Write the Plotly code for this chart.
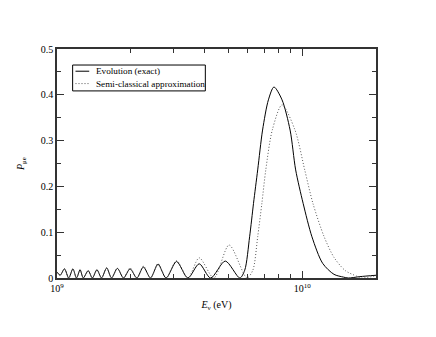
import numpy as np
import plotly.graph_objects as go

# Evolution (exact)
energy_exact = [1.000e9, 1.030e9, 1.073e9, 1.116e9, 1.161e9, 1.201e9, 1.242e9, 1.280e9,
                1.340e9, 1.394e9, 1.455e9, 1.519e9, 1.595e9, 1.669e9, 1.763e9, 1.868e9,
                1.986e9, 2.117e9, 2.251e9, 2.407e9, 2.582e9, 2.786e9, 3.073e9, 3.418e9,
                3.802e9, 4.232e9, 4.856e9, 5.568e9, 5.830e9, 6.103e9, 6.331e9, 6.584e9,
                6.893e9, 7.281e9, 7.671e9, 8.275e9, 8.927e9, 9.406e9, 1.009e10, 1.096e10,
                1.212e10, 1.348e10, 1.472e10, 1.542e10, 1.720e10, 2.000e10]
prob_exact = [0.013, 0.006, 0.020, 0.000, 0.020, 0.000, 0.018, 0.000,
              0.016, 0.000, 0.018, 0.000, 0.022, 0.000, 0.021, 0.000,
              0.020, 0.000, 0.024, 0.000, 0.030, 0.000, 0.036, 0.000,
              0.031, 0.000, 0.037, 0.000, 0.017, 0.090, 0.163, 0.236,
              0.323, 0.389, 0.417, 0.389, 0.323, 0.236, 0.163, 0.090,
              0.032, 0.008, 0.002, 0.000, 0.003, 0.006]

# Semi-classical approximation
energy_semi = [1.000e9, 1.030e9, 1.073e9, 1.116e9, 1.161e9, 1.201e9, 1.242e9, 1.280e9,
               1.340e9, 1.394e9, 1.455e9, 1.519e9, 1.595e9, 1.669e9, 1.763e9, 1.868e9,
               1.986e9, 2.117e9, 2.251e9, 2.407e9, 2.582e9, 2.786e9, 3.073e9, 3.418e9,
               3.802e9, 4.362e9, 5.035e9, 5.950e9, 6.290e9, 6.584e9, 6.848e9, 7.104e9,
               7.551e9, 8.275e9, 9.346e9, 1.024e10, 1.106e10, 1.229e10, 1.348e10,
               1.500e10, 1.669e10, 1.748e10, 2.000e10]
prob_semi = [0.013, 0.006, 0.020, 0.000, 0.020, 0.000, 0.018, 0.000,
             0.016, 0.000, 0.018, 0.000, 0.022, 0.000, 0.021, 0.000,
             0.022, 0.000, 0.026, 0.000, 0.032, 0.000, 0.038, 0.000,
             0.044, 0.000, 0.072, 0.000, 0.017, 0.090, 0.163, 0.236,
             0.323, 0.378, 0.323, 0.236, 0.163, 0.090, 0.045,
             0.016, 0.004, 0.000, 0.005]

series_names = ["Evolution (exact)", "Semi-classical approximation"]

x_major = [1e9, 1e10]
x_major_text = ["10<sup>9</sup>", "10<sup>10</sup>"]
x_minor = [2e9, 3e9, 4e9, 5e9, 6e9, 7e9, 8e9, 9e9]

serif = '"Liberation Serif", "Times New Roman", Times, serif'
exact_line = dict(color='black', width=1)
semi_line = dict(color='#555555', width=1, dash='1px,2px')

fig = go.Figure()
fig.add_scatter(x=energy_exact, y=prob_exact, mode='lines', name=series_names[0],
                line=dict(**exact_line, shape='spline', smoothing=0.8))
fig.add_scatter(x=energy_semi, y=prob_semi, mode='lines', name=series_names[1],
                line=dict(**semi_line, shape='spline', smoothing=0.8))

# legend drawn by hand (compact boxed legend like the original)
fig.add_shape(type='rect', xref='paper', yref='paper', x0=0.049, x1=0.465, y0=0.817, y1=0.930,
              line=dict(color='black', width=1), fillcolor='white', layer='below')
for i, (name, ln) in enumerate(zip(series_names, [exact_line, semi_line])):
    yy = 0.903 - i * 0.054
    fig.add_shape(type='line', xref='paper', yref='paper', x0=0.058, x1=0.101, y0=yy, y1=yy, line=ln)
    fig.add_annotation(xref='paper', yref='paper', x=0.116, y=yy, text=name, showarrow=False,
                       xanchor='left', yanchor='middle', font=dict(family=serif, size=9.2))

# page body adds an 8px offset, margins compensate for it
fig.update_layout(
    width=436, height=337,
    margin=dict(l=41, r=68, t=41, b=67, pad=0),
    paper_bgcolor='white', plot_bgcolor='white',
    font=dict(family=serif, size=10, color='black'),
    showlegend=False,
    xaxis=dict(type='log', range=[9, np.log10(2e10)],
               showline=True, linecolor='#333333', linewidth=1.5, mirror='ticks',
               ticks='inside', ticklen=7, tickcolor='#333333',
               tickmode='array', tickvals=x_major, ticktext=x_major_text,
               minor=dict(tickmode='array', tickvals=x_minor, ticks='inside', ticklen=4,
                          tickcolor='#333333'),
               showgrid=False, zeroline=False,
               title=dict(text='<i>E</i><sub>ν</sub> (eV)', standoff=8,
                          font=dict(family=serif, size=10))),
    yaxis=dict(range=[0, 0.5],
               showline=True, linecolor='#333333', linewidth=1.5, mirror='ticks',
               ticks='inside', ticklen=7, tickcolor='#333333',
               tickvals=[0, 0.1, 0.2, 0.3, 0.4, 0.5],
               ticktext=['0', '0.1', '0.2', '0.3', '0.4', '0.5'],
               minor=dict(tickmode='array', tickvals=[0.05, 0.15, 0.25, 0.35, 0.45],
                          ticks='inside', ticklen=4, tickcolor='#333333'),
               showgrid=False, zeroline=False,
               title=dict(text='<i>P</i><sub>μe</sub>', standoff=14,
                          font=dict(family=serif, size=10))),
)

fig.write_html("out.html")
